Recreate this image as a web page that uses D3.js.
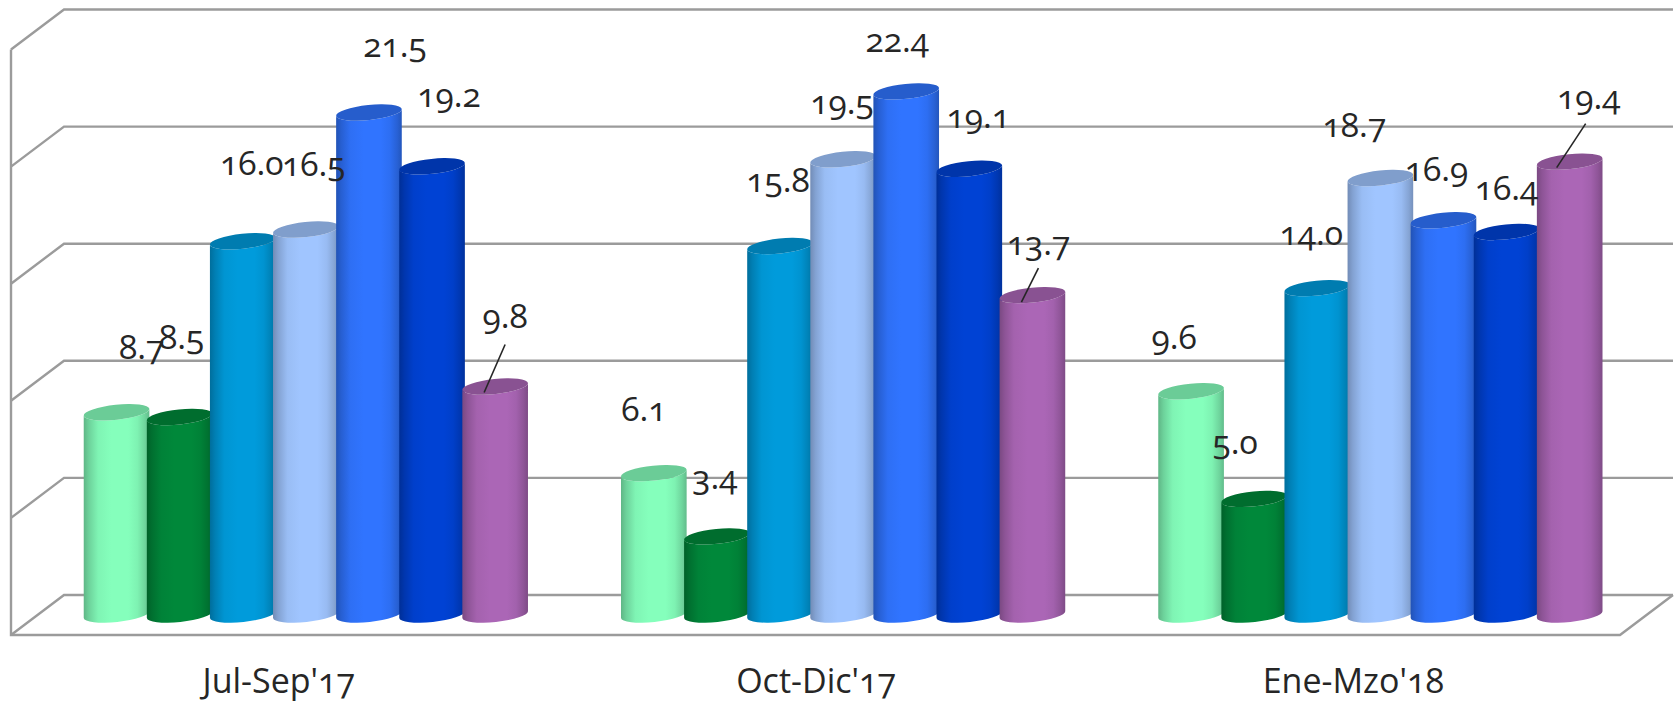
<!DOCTYPE html>
<html><head><meta charset="utf-8">
<script src="https://cdn.jsdelivr.net/npm/d3@7"></script>
<style>
html,body{margin:0;padding:0;background:#fff;overflow:hidden}
text{font-family:"Open Sans","Lato",sans-serif;font-feature-settings:"onum" 1;font-variant-numeric:oldstyle-nums;fill:#262626}
</style></head><body><svg id="c" width="1678" height="705"></svg>
<script>
const categories=["Jul-Sep'17","Oct-Dic'17","Ene-Mzo'18"];
const series0=[8.7,6.1,9.6];
const series1=[8.5,3.4,5.0];
const series2=[16.0,15.8,14.0];
const series3=[16.5,19.5,18.7];
const series4=[21.5,22.4,16.9];
const series5=[19.2,19.1,16.4];
const series6=[9.8,13.7,19.4];
const seriesValues=[series0,series1,series2,series3,series4,series5,series6];
const yTicks=[0,5,10,15,20,25];
const seriesColors=["#85FFBC","#00883A","#009BDB","#A0C5FF","#3074FF","#0042D4","#AB66B6"];

// layout
const W=1678,H=705,depthX=53,depthY=40,barDepthY=21,rx=33,ry=7.5,tilt=-6;
const svg=d3.select("#c");
const y=d3.scaleLinear().domain([0,25]).range([595,9.5]);
const x0=d3.scaleBand().domain(categories).range([37.2,1649]);
const x1=d3.scaleBand().domain(d3.range(7)).range([47.8,489.5]);
const wallL=64,wallR=1673;
// per-label nudges [dx,dy] from the top of each cylinder: rows by series, columns by category
const labelNudge=[
 [[25,-63],[-10,-62],[-17,-52]],
 [[2,-78],[-2,-57],[-19,-55]],
 [[9,-76],[-2,-64],[-6,-53]],
 [[8,-64],[-1,-55],[-26,-51]],
 [[26,-65],[-9,-49],[-7,-49]],
 [[17,-69],[9,-51],[0,-42]],
 [[10,-68],[6,-50],[19,-63]]];
// leader lines relative to the same anchor
const leaders=[
 {s:6,c:0,pts:[[10,-42],[-11,6]]},
 {s:6,c:1,pts:[[6,-27],[-11,7]]},
 {s:6,c:2,pts:[[16,-38],[-13,6]]}];

const defs=svg.append("defs");
seriesColors.forEach((c,i)=>{
  const col=d3.color(c),g=defs.append("linearGradient").attr("id","g"+i);
  [[0,col.darker(.95)],[.08,col.darker(.55)],[.22,col.darker(.12)],[.42,col],[.68,col],[.82,col.darker(.15)],[.93,col.darker(.5)],[1,col.darker(.85)]]
   .forEach(([o,k])=>g.append("stop").attr("offset",o).attr("stop-color",k));
});

const grid=svg.append("g").attr("fill","none").attr("stroke","#9b9b9b").attr("stroke-width",2.4);
yTicks.forEach(t=>{
  grid.append("path").attr("d",`M${wallL-depthX},${y(t)+depthY}L${wallL},${y(t)}L${wallR},${y(t)}`);
});
grid.append("path").attr("d",`M${wallL-depthX},${y(25)+depthY}L${wallL-depthX},${y(0)+depthY}L${wallR-depthX},${y(0)+depthY}L${wallR},${y(0)}`);

const rad=tilt*Math.PI/180,ex=rx*Math.cos(rad),ey=rx*Math.sin(rad);
const topOf=v=>y(v)+barDepthY;
const cxOf=(ci,si)=>x0(categories[ci])+x1(si)+x1.bandwidth()/2;
const bars=svg.append("g");
categories.forEach((cat,ci)=>{
  seriesValues.forEach((vals,si)=>{
    const cx=cxOf(ci,si),t=topOf(vals[ci]),b=topOf(0)-1.5;
    const g=bars.append("g");
    g.append("path").attr("fill",`url(#g${si})`)
     .attr("d",`M${cx-ex},${t-ey}L${cx-ex},${b-ey}A${rx},${ry} ${tilt} 0 0 ${cx+ex},${b+ey}L${cx+ex},${t+ey}A${rx},${ry} ${tilt} 0 1 ${cx-ex},${t-ey}Z`);
    g.append("ellipse").attr("rx",rx).attr("ry",ry)
     .attr("transform",`translate(${cx},${t}) rotate(${tilt})`)
     .attr("fill",d3.color(seriesColors[si]).darker(.62));
  });
});

const line=d3.line();
leaders.forEach(l=>{
  const cx=cxOf(l.c,l.s),t=topOf(seriesValues[l.s][l.c]);
  svg.append("path").attr("fill","none").attr("stroke","#262626").attr("stroke-width",1.6)
    .attr("d",line(l.pts.map(p=>[cx+p[0],t+p[1]])));
});

const fmt=d3.format(".1f");
seriesValues.forEach((vals,si)=>vals.forEach((v,ci)=>{
  const n=labelNudge[si][ci];
  svg.append("text").attr("x",cxOf(ci,si)+n[0]).attr("y",topOf(v)+n[1]+10)
    .attr("text-anchor","middle").attr("font-size",33.5).text(fmt(v));
}));
categories.forEach(c=>{
  svg.append("text").attr("x",x0(c)+x0.bandwidth()/2-27).attr("y",y(0)+depthY+58)
    .attr("text-anchor","middle").attr("font-size",34).text(c);
});
</script></body></html>
